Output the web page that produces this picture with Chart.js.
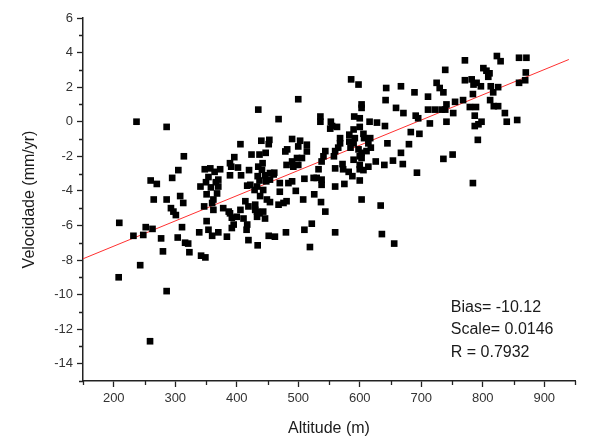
<!DOCTYPE html>
<html>
<head>
<meta charset="utf-8">
<script src="https://cdn.jsdelivr.net/npm/chart.js@4/dist/chart.umd.min.js"></script>
<style>
  html, body { margin: 0; padding: 0; background: #fff; }
  #wrap { width: 590px; height: 448px; }
</style>
</head>
<body>
<div id="wrap"><canvas id="scatter"></canvas></div>
<script>
// altitude (m) / velocity (mm/yr)
const altitude = [
  237,286,314,305,295,260,270,265,286,308,313,293,297,301,311,209,252,263,232,248,277,304,316,321,323,280,243,208,286,259,
  500,435,468,406,440,453,452,490,503,424,437,447,482,479,500,514,514,506,498,490,481,492,500,
  396,389,391,402,442,435,420,461,348,357,364,354,350,358,366,
  389,407,434,446,460,437,448,470,484,490,510,417,429,443,470,496,341,351,368,525,
  362,347,362,378,389,392,400,395,392,406,414,430,437,443,446,438,449,454,468,476,481,508,
  351,339,354,360,370,384,416,419,434,452,462,480,510,522,519,342,349,
  586,598,643,667,689,711,725,730,736,739,642,659,671,691,695,711,722,733,714,603,603,591,600,616,628,641,683,
  645,680,667,670,693,654,640,626,614,600,600,606,590,600,611,618,614,607,606,600,583,583,585,
  568,568,565,560,558,544,541,538,536,536,553,555,563,552,572,573,582,588,600,560,533,530,538,538,560,575,526,603,736,
  537,544,634,560,636,656,
  823,829,859,871,771,801,806,811,809,870,869,859,771,782,790,797,785,813,825,817,784,768,755,812,
  741,739,752,779,789,818,825,836,787,741,798,793,787,839,856,792,751,784,
  373,370,370,360,387,419,411,417,433,433,422,433,454,441,454,430,
  590,592,617,590,598,603,603,697
];
const velocity = [
  0.0,-0.3,-2.0,-2.8,-3.25,-3.4,-3.6,-4.5,-4.5,-4.3,-4.7,-5.0,-5.2,-5.4,-6.1,-5.85,-6.1,-6.2,-6.6,-6.55,-6.75,-6.7,-7.0,-7.05,-7.55,-7.5,-8.3,-9.0,-9.8,-12.7,
  1.3,0.7,0.15,-1.3,-1.1,-1.05,-1.3,-1.0,-1.1,-1.9,-1.9,-1.8,-1.6,-1.72,-1.43,-1.33,-1.72,-2.1,-2.1,-2.3,-2.5,-2.6,-2.5,
  -2.05,-2.4,-2.6,-2.65,-2.4,-2.6,-2.8,-2.95,-2.75,-2.7,-2.9,-3.2,-3.5,-3.8,-3.5,
  -3.1,-3.1,-3.15,-3.1,-3.05,-3.4,-3.45,-3.55,-3.55,-3.45,-3.3,-3.7,-3.95,-3.95,-4.05,-4.0,-3.75,-4.2,-4.15,-3.25,
  -4.5,-4.9,-5.1,-5.0,-5.3,-5.55,-5.5,-5.95,-6.15,-5.1,-4.6,-5.1,-5.3,-5.2,-5.6,-4.3,-4.5,-4.65,-4.8,-4.7,-4.6,-4.5,
  -5.75,-6.4,-6.25,-6.6,-6.4,-6.65,-6.25,-6.85,-7.15,-6.6,-6.65,-6.4,-6.25,-5.9,-7.25,-7.75,-7.85,
  2.45,2.15,1.95,2.05,1.7,1.45,2.25,1.95,1.7,3.0,1.25,0.8,0.5,0.35,0.2,0.7,0.7,0.7,-0.1,1.0,0.8,0.3,0.2,0.0,-0.05,-0.25,-0.6,
  -1.25,-1.3,-1.8,-2.45,-2.95,-2.25,-2.5,-2.3,-2.6,-2.5,-2.75,-2.8,-2.2,-2.0,-1.7,-1.5,-1.25,-0.95,-0.7,-0.3,-0.75,-1.15,-1.5,
  -0.95,-1.25,-1.5,-1.7,-2.0,-1.7,-2.0,-2.3,0.3,0.0,0.0,-0.25,-0.3,-0.4,-2.45,-2.75,-2.9,-3.15,-3.4,-2.7,-2.75,-3.25,-3.35,-3.65,-3.75,-3.6,-4.2,-4.5,-2.15,
  -4.65,-5.2,-4.85,-6.4,-6.5,-7.05,
  3.8,3.5,3.7,3.7,3.55,3.1,2.95,2.8,2.6,2.85,2.4,2.25,2.4,2.45,2.25,2.05,2.15,2.05,2.0,1.7,1.6,1.25,1.15,1.25,
  1.0,0.7,0.5,0.85,0.85,0.9,0.9,0.5,0.35,0.0,0.0,-0.15,-0.25,0.0,0.1,-1.05,-1.9,-3.55,
  -2.75,-3.75,-3.35,-4.7,-5.2,-4.9,-5.6,-5.95,-5.2,-5.5,-3.65,-3.75,-2.97,-2.78,-3.35,-4.8,
  -0.45,-0.95,-0.95,-1.25,-1.6,-1.8,-2.1,-0.7
];

// fitted line end points
const fitX = [150, 940];
const fitY = [-7.93, 3.60];

const fitText = ['Bias= -10.12', 'Scale= 0.0146', 'R = 0.7932'];
const fitTextY = [-11.0, -12.27, -13.6];
const fitTextX = 748;

const xTicks = [200, 300, 400, 500, 600, 700, 800, 900];
const xMinorTicks = [150, 250, 350, 450, 550, 650, 750, 850, 950];
const yTicks = [-14, -12, -10, -8, -6, -4, -2, 0, 2, 4, 6];
const yMinorTicks = [-15, -13, -11, -9, -7, -5, -3, -1, 1, 3, 5];

const xMin = 150, xMax = 950, yMin = -15, yMax = 6;

const FONT = '"Liberation Sans", Arial, sans-serif';

const points = altitude.map((a, i) => ({ x: a, y: velocity[i] }));
const fitLine = fitX.map((v, i) => ({ x: v, y: fitY[i] }));

const minorTicks = {
  id: 'minorTicks',
  afterDraw(chart) {
    const { ctx, scales: { x, y }, chartArea } = chart;
    ctx.save();
    ctx.strokeStyle = '#222';
    ctx.lineWidth = 1.3;
    ctx.beginPath();
    xMinorTicks.forEach(v => {
      const px = Math.round(x.getPixelForValue(v)) + 0.5;
      ctx.moveTo(px, chartArea.bottom);
      ctx.lineTo(px, chartArea.bottom + 4);
    });
    yMinorTicks.forEach(v => {
      const py = Math.round(y.getPixelForValue(v)) + 0.5;
      ctx.moveTo(chartArea.left, py);
      ctx.lineTo(chartArea.left - 4, py);
    });
    ctx.stroke();

    // fit statistics
    ctx.fillStyle = '#1a1a1a';
    ctx.font = '16px ' + FONT;
    ctx.textBaseline = 'alphabetic';
    ctx.textAlign = 'left';
    fitText.forEach((t, i) => {
      ctx.fillText(t, x.getPixelForValue(fitTextX), y.getPixelForValue(fitTextY[i]));
    });
    ctx.restore();
  }
};

new Chart(document.getElementById('scatter'), {
  type: 'scatter',
  data: {
    datasets: [
      {
        label: 'Velocidade',
        data: points,
        pointStyle: 'rect',
        pointRadius: 4.7,
        pointHoverRadius: 4.7,
        backgroundColor: '#000',
        borderColor: '#000',
        borderWidth: 0
      },
      {
        label: 'Fit',
        type: 'line',
        data: fitLine,
        borderColor: '#ff3030',
        borderWidth: 1,
        pointRadius: 0,
        fill: false
      }
    ]
  },
  options: {
    responsive: true,
    maintainAspectRatio: false,
    animation: false,
    layout: { padding: { top: 18, right: 15, left: 0, bottom: 0 } },
    plugins: { legend: { display: false }, tooltip: { enabled: false } },
    scales: {
      x: {
        type: 'linear',
        min: xMin,
        max: xMax,
        afterBuildTicks: s => { s.ticks = xTicks.map(v => ({ value: v })); },
        afterFit: s => { s.height = 67; },
        border: { display: true, color: '#222', width: 1.5 },
        grid: { display: true, drawOnChartArea: false, drawTicks: true, tickLength: 6, tickColor: '#222', tickWidth: 1.3 },
        ticks: { color: '#333', font: { family: FONT, size: 13 }, padding: 4 },
        title: { display: true, text: 'Altitude (m)', color: '#1a1a1a', font: { family: FONT, size: 16 }, padding: { top: 0, bottom: 10 } }
      },
      y: {
        type: 'linear',
        min: yMin,
        max: yMax,
        afterBuildTicks: s => { s.ticks = yTicks.map(v => ({ value: v })); },
        afterFit: s => { s.width = 83; },
        border: { display: true, color: '#222', width: 1.5 },
        grid: { display: true, drawOnChartArea: false, drawTicks: true, tickLength: 6, tickColor: '#222', tickWidth: 1.3 },
        ticks: { color: '#333', font: { family: FONT, size: 13 }, padding: 4 },
        title: { display: true, text: 'Velocidade (mm/yr)', color: '#1a1a1a', font: { family: FONT, size: 16 }, padding: { top: 20, bottom: 0 } }
      }
    }
  },
  plugins: [minorTicks]
});
</script>
</body>
</html>
